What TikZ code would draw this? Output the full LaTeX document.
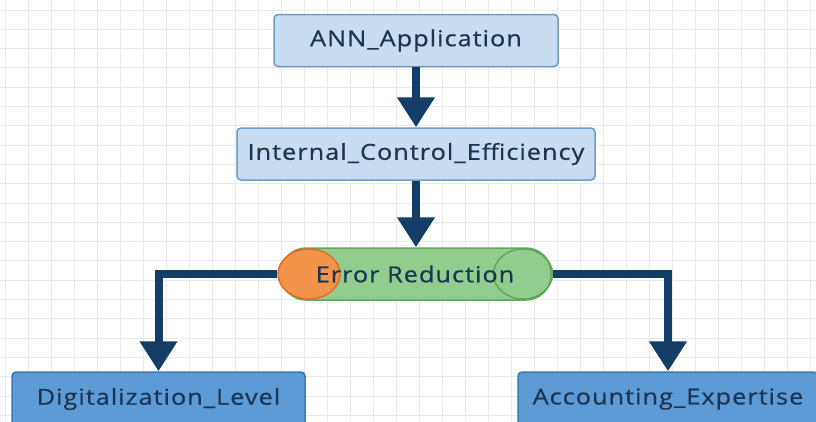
\documentclass[tikz,border=0pt]{standalone}
\usepackage{fontspec}
\usepackage{graphicx}
\setmainfont{Open Sans}
\newfontfamily\lblfont[LetterSpace=4,FakeBold=0.6]{Open Sans}
\newcommand{\widelbl}[1]{\scalebox{1.15}[1]{#1}}
\usetikzlibrary{arrows.meta,shapes.geometric}
\definecolor{gridc}{HTML}{EAEAEC}
\definecolor{navy}{HTML}{123D66}
\definecolor{txt}{HTML}{1B3553}
\definecolor{lightfill}{HTML}{C8DDF1}
\definecolor{lightdraw}{HTML}{6D9BCB}
\definecolor{darkfill}{HTML}{5D9BD6}
\definecolor{darkdraw}{HTML}{3E78B2}
\definecolor{greenfill}{HTML}{93CC8F}
\definecolor{greendraw}{HTML}{5DA85B}
\definecolor{orangefill}{HTML}{F2954B}
\definecolor{orangedraw}{HTML}{E16E22}
\tikzset{
  lbl/.style={text=txt, font=\lblfont\fontsize{22}{26}\selectfont},
  topbox/.style={lbl, draw=lightdraw, fill=lightfill, line width=1.5pt, rounded corners=4pt,
    minimum height=52pt, inner sep=0pt},
  lowbox/.style={lbl, draw=darkdraw, fill=darkfill, line width=1.5pt, rounded corners=4pt,
    minimum height=54pt, inner sep=0pt},
  conn/.style={draw=navy, line width=8pt, -{Triangle[width=36pt,length=30pt]}},
}
\begin{document}
\begin{tikzpicture}[x=1pt,y=-1pt]
  % canvas and grid
  \fill[white] (0,0) rectangle (816,421);
  \useasboundingbox (0,0) rectangle (816,421);
  \foreach \gx in {5,28,...,816} \draw[gridc, line width=1pt] (\gx,0) -- (\gx,421);
  \foreach \gy in {10,29.3,...,421} \draw[gridc, line width=1pt] (0,\gy) -- (816,\gy);

  % boxes
  \node[topbox, minimum width=284pt] (ann) at (416,40.5) {\widelbl{ANN\_Application}};
  \node[topbox, minimum width=358pt] (ice) at (416,154) {\widelbl{Internal\_Control\_Efficiency}};

  % error reduction cylinder
  \node[draw=greendraw, fill=greenfill, line width=1.5pt, rounded corners=25pt,
        minimum width=270pt, minimum height=52pt, inner sep=0pt] (err) at (416,274) {};
  \node[ellipse, draw=greendraw, line width=1.5pt, minimum width=59pt, minimum height=50pt,
        inner sep=0pt] (errR) at (523,274) {};
  \node[ellipse, draw=orangedraw, fill=orangefill, line width=1.5pt, minimum width=62pt,
        minimum height=50pt, inner sep=0pt] (errL) at (309,274) {};
  \node[lbl] (errT) at (415,274) {\widelbl{Error Reduction}};

  \node[lowbox, minimum width=293pt] (dig) at (158.5,399) {\widelbl{Digitalization\_Level}};
  \node[lowbox, minimum width=300pt] (acc) at (668,399) {\widelbl{Accounting\_Expertise}};

  % connectors
  \draw[conn] (ann.south) -- (ice.north);
  \draw[conn] (ice.south) -- (err.north);
  \draw[conn] (errL.west) -| (dig.north);
  \draw[conn] (errR.east) -| (acc.north);
\end{tikzpicture}
\end{document}
